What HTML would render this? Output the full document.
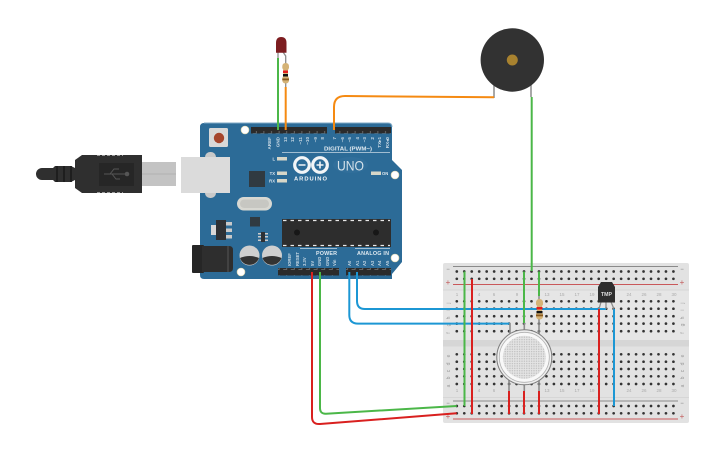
<!DOCTYPE html>
<html><head><meta charset="utf-8"><style>
html,body{margin:0;padding:0;background:#fff}
svg{display:block}
text{font-family:"Liberation Sans",sans-serif}
</style></head><body>
<svg width="725" height="453" viewBox="0 0 725 453" xmlns="http://www.w3.org/2000/svg">
<defs>
<pattern id="hd" x="0" y="0" width="7.6" height="8" patternUnits="userSpaceOnUse"><rect width="7.6" height="8" fill="#2b2b2b"/><path d="M2 5.5h3.5V3" fill="none" stroke="#777" stroke-width=".8"/></pattern>
<pattern id="st" x="0" y="0" width="2.4" height="2.4" patternUnits="userSpaceOnUse"><rect width="2.4" height="2.4" fill="#e4e4e4"/><circle cx="1.2" cy="1.2" r=".7" fill="#bdbdbd"/></pattern>
</defs>

<!-- USB cable -->
<path d="M42 168H53L55 166H71L75 168V160L82 155H142V193H82L75 188V180L71 182H55L53 180H42A6 6 0 0 1 42 168Z" fill="#2f2f2f"/>
<path d="M57 166v16M64 166v16M71 166v16" stroke="#1c1c1c" stroke-width="1.800"/>
<path d="M97 155.500H123M97 192.500H123" stroke="#9a9a9a" stroke-width="1" stroke-dasharray="3 2"/>
<rect x="99" y="163" width="35" height="23" fill="#262626"/>
<path d="M104 174H128M110 174L114 169H119M112 174L116 179H120" stroke="#555" stroke-width="1" fill="none"/>
<circle cx="127" cy="174" r="2.300" fill="#555"/>
<rect x="142" y="162" width="34" height="24" fill="#c3c3c3"/>
<path d="M142 174H176" stroke="#b2b2b2"/>

<!-- Arduino board -->
<path d="M204 123H388Q392 123 392 127V160L402 170V262L392 274V279H204Q200 279 200 275V127Q200 123 204 123Z" fill="#2c6b97"/>
<path d="M204 123H388Q392 123 392 127" fill="none" stroke="#7fa8c4" stroke-width="1"/>

<!-- USB socket on board -->
<rect x="205" y="152" width="11" height="46" rx="5" fill="#c9c9c9"/>
<rect x="181" y="157" width="49" height="36" fill="#dbdbdb"/>

<!-- Reset -->
<rect x="209" y="128" width="19" height="19" rx="1.500" fill="#d8d8d8"/>
<circle cx="219" cy="138" r="5.200" fill="#a5452c"/>

<!-- Headers -->
<rect x="251" y="127" width="76" height="6.500" fill="url(#hd)"/>
<rect x="335" y="127" width="56" height="6.500" fill="url(#hd)"/>
<rect x="278" y="268" width="61" height="7.500" fill="url(#hd)"/>
<rect x="346" y="268" width="45" height="7.500" fill="url(#hd)"/>

<!-- Mount holes -->
<g fill="#fff" stroke="#d9cf9f" stroke-width=".6">
<circle cx="245" cy="130" r="4"/><circle cx="395" cy="175" r="4"/><circle cx="395" cy="258" r="4"/><circle cx="241" cy="272" r="4"/>
</g>

<!-- Pin labels top -->
<g fill="#c6d7e3" font-size="4.600" font-weight="bold" text-anchor="end">
<text transform="translate(271,137) rotate(-90)">AREF</text>
<text transform="translate(279.500,137) rotate(-90)">GND</text>
<text transform="translate(287,137) rotate(-90)">13</text>
<text transform="translate(294,137) rotate(-90)">12</text>
<text transform="translate(302,137) rotate(-90)">~11</text>
<text transform="translate(309,137) rotate(-90)">~10</text>
<text transform="translate(317,137) rotate(-90)">~9</text>
<text transform="translate(324,137) rotate(-90)">8</text>
<text transform="translate(336,137) rotate(-90)">7</text>
<text transform="translate(344,137) rotate(-90)">~6</text>
<text transform="translate(351,137) rotate(-90)">~5</text>
<text transform="translate(359,137) rotate(-90)">4</text>
<text transform="translate(366,137) rotate(-90)">~3</text>
<text transform="translate(374,137) rotate(-90)">2</text>
<text transform="translate(381,137) rotate(-90)">TX▸1</text>
<text transform="translate(389,137) rotate(-90)">RX◂0</text>
</g>
<text x="324" y="150.500" fill="#dfe9f0" font-size="5.200" font-weight="bold" textLength="48" lengthAdjust="spacingAndGlyphs">DIGITAL (PWM~)</text>
<path d="M282 152.500H390" stroke="#c8d9e5" stroke-width=".7"/>

<!-- LEDs -->
<g fill="#dfe9f0" font-size="4.200" font-weight="bold" text-anchor="end">
<text x="275" y="160.500">L</text><text x="275" y="175">TX</text><text x="275" y="182.500">RX</text>
</g>
<g fill="#d7d7c8"><rect x="277" y="157" width="10" height="3.500"/><rect x="277" y="171.500" width="10" height="3.500"/><rect x="277" y="179" width="10" height="3.500"/><rect x="371" y="171.500" width="10" height="3.500"/></g>
<text x="382" y="175" fill="#dfe9f0" font-size="4.200" font-weight="bold">ON</text>

<!-- Logo -->
<g fill="none" stroke="#f2f5f7" stroke-width="3.200">
<circle cx="302" cy="165" r="7.300"/><circle cx="320" cy="165" r="7.300"/>
</g>
<path d="M298.500 165h7M316.500 165h7M320 161.500v7" stroke="#f2f5f7" stroke-width="1.600"/>
<text x="310.500" y="180.500" text-anchor="middle" fill="#f2f5f7" font-size="5.800" font-weight="bold" textLength="33">ARDUINO</text>
<ellipse cx="350.500" cy="165" rx="17.500" ry="8" fill="#316f9b"/>
<text x="350.500" y="170.500" text-anchor="middle" fill="#d5e2ea" font-size="14" textLength="27" lengthAdjust="spacingAndGlyphs">UNO</text>

<!-- Components -->
<rect x="249" y="171" width="16" height="16" fill="#303a41"/>
<rect x="237" y="197" width="35" height="13.500" rx="6.700" fill="#d8d8d2"/>
<rect x="240" y="199.500" width="29" height="8.500" rx="4.200" fill="#c7c7c2"/>
<rect x="250" y="217" width="10" height="9.500" fill="#303a41"/>
<rect x="211" y="225" width="6" height="10" fill="#d8d8d8"/>
<g fill="#c9c9c9"><rect x="226" y="222" width="6" height="3.500"/><rect x="226" y="228.500" width="6" height="3.500"/><rect x="226" y="235" width="6" height="3.500"/></g>
<rect x="216" y="220" width="10" height="20" fill="#2e3135"/>
<g fill="#ccc"><rect x="258" y="233" width="10" height="1.500"/><rect x="258" y="236" width="10" height="1.500"/><rect x="258" y="239.500" width="10" height="1.500"/></g>
<rect x="261" y="232" width="4" height="10" fill="#2e3135"/>

<!-- Caps -->
<g><circle cx="249.500" cy="255.500" r="10" fill="#cfcfcf"/><path d="M240 258A10 10 0 0 0 259 258Q249.500 254 240 258Z" fill="#333"/>
<circle cx="272" cy="255.500" r="10" fill="#cfcfcf"/><path d="M262.500 258A10 10 0 0 0 281.500 258Q272 254 262.500 258Z" fill="#333"/></g>

<!-- Jack -->
<rect x="192" y="245" width="12" height="28" rx="1" fill="#262626"/>
<path d="M202 246H229Q233 246 233 250V268Q233 272 229 272H202Z" fill="#2e2e2e"/>
<path d="M228 246V272" stroke="#555" stroke-width="1"/>

<!-- IC -->
<rect x="282" y="219" width="109" height="28" fill="#2d2d2d"/>
<path d="M283 220.500H390M283 245.500H390" stroke="#e8e8e8" stroke-width="1.300" stroke-dasharray="3.500 4"/>
<circle cx="297" cy="232.500" r="3" fill="#171717"/><circle cx="376" cy="232.500" r="3" fill="#171717"/>

<!-- Bottom labels -->
<path d="M300 248.500H337M355 248.500H390" stroke="#c8d9e5" stroke-width=".7"/>
<text x="316" y="255" fill="#dfe9f0" font-size="5.400" font-weight="bold" textLength="21">POWER</text>
<text x="357" y="255" fill="#dfe9f0" font-size="5.400" font-weight="bold" textLength="32">ANALOG IN</text>
<g fill="#c6d7e3" font-size="4.200" font-weight="bold">
<text transform="translate(291,266) rotate(-90)">IOREF</text>
<text transform="translate(299,266) rotate(-90)">RESET</text>
<text transform="translate(306,266) rotate(-90)">3.3V</text>
<text transform="translate(314,266) rotate(-90)">5V</text>
<text transform="translate(321,266) rotate(-90)">GND</text>
<text transform="translate(329,266) rotate(-90)">GND</text>
<text transform="translate(336,266) rotate(-90)">Vin</text>
<text transform="translate(351,266) rotate(-90)">A0</text>
<text transform="translate(359,266) rotate(-90)">A1</text>
<text transform="translate(366,266) rotate(-90)">A2</text>
<text transform="translate(374,266) rotate(-90)">A3</text>
<text transform="translate(381,266) rotate(-90)">A4</text>
<text transform="translate(389,266) rotate(-90)">A5</text>
</g>

<!-- Breadboard -->
<rect x="443" y="263" width="246" height="160" rx="2" fill="#e2e2e2"/>
<rect x="443" y="290" width="246" height="55" fill="#e6e6e6"/>
<rect x="443" y="340" width="246" height="6.500" fill="#d6d6d6"/>
<rect x="443" y="289.500" width="246" height="1" fill="#d6d6d6"/>
<rect x="443" y="397" width="246" height="1" fill="#d6d6d6"/>
<path d="M453 266.500H678" stroke="#8a8a8a" stroke-width="1"/>
<path d="M453 284.500H678" stroke="#c9585a" stroke-width="1"/>
<path d="M453 401H678" stroke="#8a8a8a" stroke-width="1"/>
<path d="M453 419H678" stroke="#c9585a" stroke-width="1"/>
<g stroke="#333" stroke-width="2.700" stroke-linecap="round" stroke-dasharray="0 7.47" fill="none">
<path d="M456.800 271.500H680"/><path d="M456.800 278.800H680"/>
<path d="M456.800 406H680"/><path d="M456.800 413.300H680"/>
<path d="M456.800 301.300H680"/><path d="M456.800 308.700H680"/><path d="M456.800 316.200H680"/><path d="M456.800 323.600H680"/><path d="M456.800 331.200H680"/>
<path d="M456.800 354.300H680"/><path d="M456.800 361.700H680"/><path d="M456.800 369H680"/><path d="M456.800 376.300H680"/><path d="M456.800 384H680"/>
</g>
<g fill="#c25a5a" font-size="8" text-anchor="middle"><text x="448" y="285">+</text><text x="682" y="285">+</text><text x="448" y="419">+</text><text x="682" y="419">+</text></g>
<g fill="#777" font-size="6" text-anchor="middle"><text x="448" y="271">−</text><text x="682" y="271">−</text><text x="448" y="405">−</text><text x="682" y="405">−</text></g>
<g fill="#999" font-size="5" text-anchor="middle">
<text transform="translate(450,303) rotate(-90)">j</text><text transform="translate(450,310) rotate(-90)">i</text><text transform="translate(450,318) rotate(-90)">h</text><text transform="translate(450,325) rotate(-90)">g</text><text transform="translate(450,333) rotate(-90)">f</text>
<text transform="translate(450,356) rotate(-90)">e</text><text transform="translate(450,364) rotate(-90)">d</text><text transform="translate(450,371) rotate(-90)">c</text><text transform="translate(450,378) rotate(-90)">b</text><text transform="translate(450,386) rotate(-90)">a</text>
<text transform="translate(684,303) rotate(-90)">j</text><text transform="translate(684,310) rotate(-90)">i</text><text transform="translate(684,318) rotate(-90)">h</text><text transform="translate(684,325) rotate(-90)">g</text><text transform="translate(684,333) rotate(-90)">f</text>
<text transform="translate(684,356) rotate(-90)">e</text><text transform="translate(684,364) rotate(-90)">d</text><text transform="translate(684,371) rotate(-90)">c</text><text transform="translate(684,378) rotate(-90)">b</text><text transform="translate(684,386) rotate(-90)">a</text>
</g>
<g fill="#aaa" font-size="4.500" text-anchor="middle">
<text x="457" y="296">1</text><text x="479" y="296">4</text><text x="494" y="296">6</text><text x="517" y="296">9</text><text x="547" y="296">13</text><text x="562" y="296">15</text><text x="577" y="296">17</text><text x="592" y="296">19</text><text x="629" y="296">24</text><text x="644" y="296">26</text><text x="659" y="296">28</text><text x="674" y="296">30</text>
<text x="457" y="392">1</text><text x="479" y="392">4</text><text x="494" y="392">6</text><text x="547" y="392">13</text><text x="562" y="392">15</text><text x="577" y="392">17</text><text x="592" y="392">19</text><text x="629" y="392">24</text><text x="644" y="392">26</text><text x="659" y="392">28</text><text x="674" y="392">30</text>
</g>

<!-- Arduino to breadboard wires -->
<g fill="none" stroke-width="2">
<path d="M312 272V417Q312 424.500 320 424L456.700 413.300" stroke="#d9201f"/>
<path d="M320 272V408Q320 414 326 413.700L456.700 406" stroke="#4bb748"/>
<path d="M349.300 272V315Q349.300 323.600 358 323.600H510" stroke="#1c97d4"/>
<path d="M357 272V301Q357 309 365 309H606" stroke="#1c97d4"/>
</g>

<!-- Sensor leads -->
<g stroke="#8c8c8c" stroke-width="1.600" fill="none">
<path d="M510 323V336M524.300 323V335M539 319V336M509 378V391M524.300 382V391M539 378V391"/>
</g>
<!-- Sensor -->
<circle cx="524.300" cy="357.300" r="27.500" fill="#eeeeee" stroke="#7d7d7d" stroke-width="1"/>
<circle cx="524.300" cy="357.300" r="25" fill="#f8f8f8" stroke="#b0b0b0" stroke-width=".8"/>
<circle cx="524.300" cy="357.300" r="21.500" fill="url(#st)"/>

<!-- Breadboard wires -->
<g fill="none" stroke-width="2">
<path d="M464.500 271.500V406" stroke="#4bb748"/>
<path d="M472 279V414" stroke="#d9201f"/>
<path d="M524 271.500V323" stroke="#4bb748"/>
<path d="M539 271.500V296" stroke="#4bb748"/>
<path d="M599 309V414" stroke="#d9201f"/>
<path d="M614 309V406" stroke="#1c97d4"/>
<path d="M509 391V414M524 391V414M539 391V414" stroke="#d9201f"/>
</g>

<!-- Breadboard resistor -->
<path d="M539 296V300" stroke="#8c8c8c" stroke-width="1.500"/>
<path d="M536 303Q536 299 539.500 299Q543 299 543 303V304.500L542 306V312L543 314V316Q543 319.500 539.500 319.500Q536 319.500 536 316V314L537 312V306L536 304.500Z" fill="#d5b377"/>
<rect x="536.500" y="307" width="6" height="2.500" fill="#e21d1d"/>
<rect x="536.500" y="311" width="6" height="2.300" fill="#111"/>
<rect x="536" y="314.500" width="7" height="1.800" fill="#8a5a20"/>

<!-- TMP sensor -->
<path d="M606 302V309M601 302L599 309M611 302L614 309" stroke="#8c8c8c" stroke-width="1.300" fill="none"/>
<path d="M598 302.500V287L601 282H612L615 287V302.500Z" fill="#2e2e2e"/>
<text x="606.500" y="296" text-anchor="middle" fill="#ddd" font-size="5.200" font-weight="bold">TMP</text>

<!-- LED and resistor -->
<path d="M278 52V60M283 52L285.700 56V64" stroke="#8c8c8c" stroke-width="1.300" fill="none"/>
<path d="M276 52.700V43Q276 37 281.200 37Q286.500 37 286.500 43V52.700Z" fill="#7d1d20"/>
<path d="M285.700 83V88" stroke="#8c8c8c" stroke-width="1.300"/>
<path d="M282.300 66.500Q282.300 63 285.700 63Q289 63 289 66.500V68L288 70V76L289 78V80Q289 83.500 285.700 83.500Q282.300 83.500 282.300 80V78L283.300 76V70L282.300 68Z" fill="#d5b377"/>
<rect x="283" y="70.500" width="5" height="2.500" fill="#e21d1d"/>
<rect x="283" y="74" width="5" height="2.500" fill="#111"/>
<rect x="282.300" y="78.500" width="6.700" height="1.800" fill="#8a5a20"/>
<path d="M278 58V130" stroke="#4bb748" stroke-width="2" fill="none"/>
<path d="M285.700 87V130" stroke="#f58a12" stroke-width="2" fill="none"/>

<!-- Buzzer -->
<path d="M494 85V98M531 85V97" stroke="#8c8c8c" stroke-width="1.500"/>
<circle cx="512.300" cy="60" r="31.700" fill="#323232"/>
<circle cx="512.300" cy="60" r="5.500" fill="#a8822f"/>
<path d="M494 97.300L345 96Q334 96 334 107V130" fill="none" stroke="#f58a12" stroke-width="2"/>
<path d="M531.700 97V271" fill="none" stroke="#4bb748" stroke-width="2"/>
</svg>
</body></html>
